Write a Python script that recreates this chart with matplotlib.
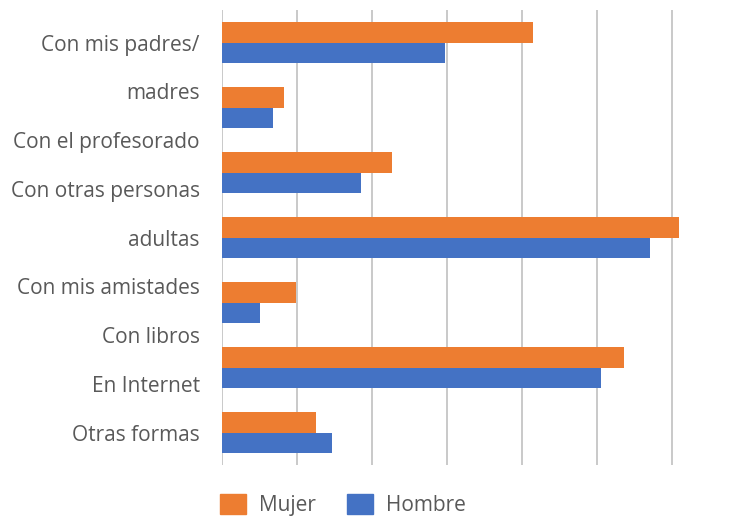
import numpy as np
import matplotlib.pyplot as plt
from matplotlib.patches import Patch

plt.rcParams['font.family'] = ['Open Sans', 'DejaVu Sans']

# 7 groups, but the wrapped labels come out as 9 separate lines
label_lines = ["Con mis padres/", "madres", "Con el profesorado", "Con otras personas",
               "adultas", "Con mis amistades", "Con libros", "En Internet", "Otras formas"]
mujer = [4.15, 0.83, 2.27, 6.09, 0.99, 5.36, 1.25]
hombre = [2.97, 0.68, 1.85, 5.71, 0.51, 5.05, 1.47]

orange = '#ED7D31'
blue = '#4472C4'
grey = '#595959'

fig = plt.figure(figsize=(7.42, 5.17), dpi=100)
ax = fig.add_axes([222 / 742, 1 - 465 / 517, (715 - 222) / 742, 455 / 517])

y = np.arange(len(mujer))
h = 0.31
ax.barh(y - h / 2, mujer, height=h, color=orange, zorder=3)
ax.barh(y + h / 2, hombre, height=h, color=blue, zorder=3)

ax.set_ylim(len(mujer) - 0.5, -0.5)
ax.set_xlim(0, 6.57)
ax.set_xticks(np.arange(0, 7))
ax.set_xticklabels([])
ax.grid(axis='x', color='#c0c0c0', linewidth=1.2, zorder=0)
ax.tick_params(length=0)

ax.set_yticks(np.linspace(0, 6, len(label_lines)))
ax.set_yticklabels(label_lines, fontsize=15, color=grey)
ax.tick_params(axis='y', pad=16)

for s in ax.spines.values():
    s.set_visible(False)

handles = [Patch(color=orange, label='Mujer'), Patch(color=blue, label='Hombre')]
fig.legend(handles=handles, loc='center left', bbox_to_anchor=(201 / 742, 1 - 505 / 517),
           ncol=2, frameon=False, fontsize=15, labelcolor=grey,
           handlelength=1.25, handleheight=1.15, columnspacing=1.5, handletextpad=0.62)

fig.savefig('out.png', dpi=100)
